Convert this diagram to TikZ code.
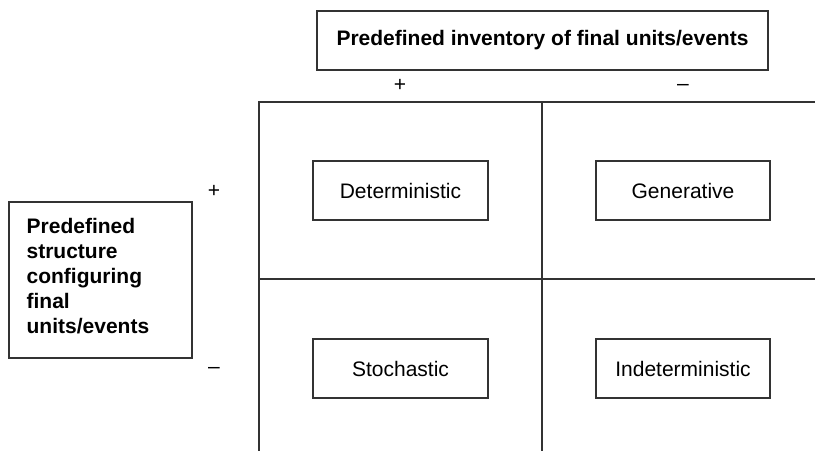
\documentclass[tikz,border=0pt]{standalone}
\usepackage{fontspec}
\setmainfont{Liberation Sans}
\begin{document}
\begin{tikzpicture}[x=1pt,y=-1pt,
  txt/.style={font=\fontsize{21}{25}\selectfont},
  box/.style={txt, draw=black!80, line width=1.1pt, fill=white, inner sep=0pt, minimum height=59pt},
  gridline/.style={draw=black!80, line width=1.3pt},
  sign/.style={txt, inner sep=0pt}]
\useasboundingbox (0,0) rectangle (815,451);
% grid
\coordinate (gTL) at (259,102);
\coordinate (gTR) at (815,102);
\coordinate (gML) at (259,279);
\coordinate (gMR) at (815,279);
\coordinate (gBL) at (259,451);
\coordinate (gTM) at (542,102);
\coordinate (gBM) at (542,451);
\draw[gridline] (gTR) -- (gTL) -- (gBL);
\draw[gridline] (gML) -- (gMR);
\draw[gridline] (gTM) -- (gBM);
% header boxes
\node[box, font=\fontsize{21}{25}\selectfont\bfseries, minimum width=451pt] (inv) at (542.5,40.5) {Predefined inventory of final units/events};
\node[box, minimum width=183pt, minimum height=156pt] (str) at (100.5,280) {};
\node[font=\fontsize{21}{25}\selectfont\bfseries, align=left, anchor=west, inner sep=0pt] (strlbl) at ([xshift=18pt,yshift=4pt]str.west) {Predefined\\structure\\configuring\\final\\units/events};
% signs
\node[sign] (ip) at (400,85) {+};
\node[sign] (im) at (683,87) {–};
\node[sign] (sp) at (214,191) {+};
\node[sign] (sm) at (214,370) {–};
% cells
\node[box, minimum width=175pt] (det) at (400.5,190.5) {Deterministic};
\node[box, minimum width=174pt] (gen) at (683,190.5) {Generative};
\node[box, minimum width=175pt] (sto) at (400.5,368.5) {Stochastic};
\node[box, minimum width=174pt] (ind) at (683,368.5) {Indeterministic};
\end{tikzpicture}
\end{document}
